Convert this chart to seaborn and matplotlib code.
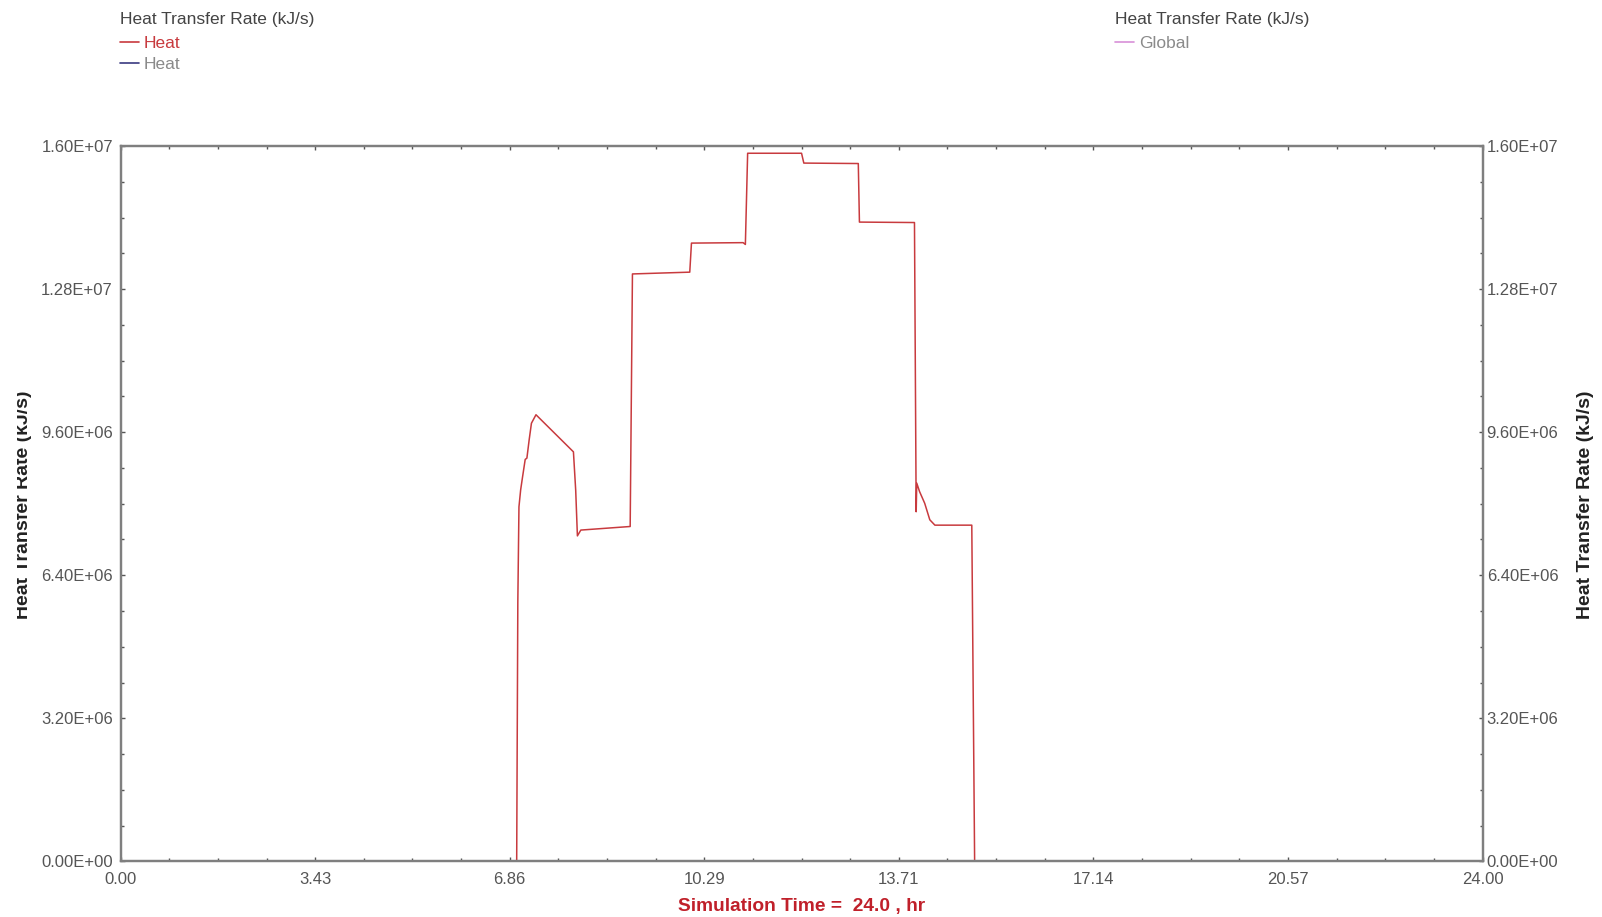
import matplotlib
matplotlib.use("Agg")
import matplotlib.pyplot as plt
from matplotlib.ticker import FixedLocator, FuncFormatter, AutoMinorLocator
from matplotlib.lines import Line2D
from matplotlib.transforms import Bbox
import seaborn as sns
import pandas as pd

# ---- data ----
time_hr = [0.00, 6.98, 7.00, 7.02, 7.05, 7.08, 7.13, 7.16, 7.20, 7.24, 7.32,
           7.98, 8.02, 8.05, 8.11, 8.98, 9.02, 10.03, 10.06, 10.97, 11.01,
           11.05, 12.00, 12.04, 13.00, 13.02, 13.99, 14.02, 14.03, 14.08,
           14.17, 14.26, 14.35, 15.00, 15.05, 24.00]
heat_rate = [0.0, 0.0, 5.80e6, 7.93e6, 8.31e6, 8.57e6, 8.99e6, 9.02e6, 9.43e6, 9.80e6, 9.99e6,
             9.16e6, 8.30e6, 7.28e6, 7.41e6, 7.49e6, 13.14e6, 13.18e6, 13.83e6, 13.84e6, 13.80e6,
             15.84e6, 15.84e6, 15.62e6, 15.61e6, 14.30e6, 14.29e6, 7.82e6, 8.46e6, 8.27e6,
             8.01e6, 7.64e6, 7.52e6, 7.52e6, 0.0, 0.0]

x_ticks = [0.00, 24 / 7, 48 / 7, 72 / 7, 96 / 7, 120 / 7, 144 / 7, 24.00]
y_ticks = [0.0, 3.2e6, 6.4e6, 9.6e6, 1.28e7, 1.6e7]

left_legend_title = "Heat Transfer Rate (kJ/s)"
left_legend_labels = ["Heat", "Heat"]
right_legend_title = "Heat Transfer Rate (kJ/s)"
right_legend_labels = ["Global"]
y_label = "Heat Transfer Rate (kJ/s)"
x_label = "Simulation Time =  24.0 , hr"

# ---- style ----
sns.set_style("white")
plt.rcParams["font.family"] = ["Liberation Sans", "DejaVu Sans"]

W, H = 1602, 917
fig = plt.figure(figsize=(W / 100, H / 100), dpi=100)
ax_l, ax_r, ax_t, ax_b = 120.6, 1482.5, 146.1, 861.3
ax = fig.add_axes([ax_l / W, 1 - ax_b / H, (ax_r - ax_l) / W, (ax_b - ax_t) / H])

line_red = "#c83a3e"
spine_col = "#7f7f7f"
txt_col = "#555555"

df = pd.DataFrame({"time": time_hr, "rate": heat_rate})
sns.lineplot(data=df, x="time", y="rate", ax=ax, color=line_red, linewidth=1.1,
             estimator=None, sort=False, zorder=1)

ax.set_xlim(0, 24)
ax.set_ylim(0, 1.6e7)
ax.xaxis.set_major_locator(FixedLocator(x_ticks))
ax.yaxis.set_major_locator(FixedLocator(y_ticks))
ax.xaxis.set_minor_locator(AutoMinorLocator(4))
ax.yaxis.set_minor_locator(AutoMinorLocator(4))
ax.xaxis.set_major_formatter(FuncFormatter(lambda v, p: f"{v:.2f}"))
ax.yaxis.set_major_formatter(FuncFormatter(lambda v, p: f"{v:.2E}"))
ax.set_xlabel("")
ax.set_ylabel("")

# right-hand axis (same scale) for the right tick labels
ax2 = ax.twinx()
ax2.set_ylim(ax.get_ylim())
ax2.yaxis.set_major_locator(FixedLocator(y_ticks))
ax2.yaxis.set_minor_locator(AutoMinorLocator(4))
ax2.yaxis.set_major_formatter(FuncFormatter(lambda v, p: f"{v:.2E}"))

for a in (ax, ax2):
    for s in a.spines.values():
        s.set_visible(True)
        s.set_color(spine_col)
        s.set_linewidth(1.6)
        s.set_zorder(3)

ax.tick_params(axis="both", which="both", direction="in", color="#555555",
               width=1.0, top=True, right=False, bottom=True, left=True)
ax.tick_params(axis="both", which="major", length=3, labelsize=12, labelcolor=txt_col)
ax.tick_params(axis="both", which="minor", length=2)
ax.tick_params(axis="x", which="major", pad=8)
ax.tick_params(axis="y", which="major", pad=5.5)
ax2.tick_params(axis="y", which="both", direction="in", color="#555555", width=1.0)
ax2.tick_params(axis="y", which="major", length=3, labelsize=12, labelcolor=txt_col, pad=3)
ax2.tick_params(axis="y", which="minor", length=2)

# axis titles (the left one is cut at the image edge in the reference)
tl = fig.text(28 / W, 1 - 505 / H, y_label, rotation=90, rotation_mode="anchor",
              ha="center", va="baseline", fontsize=14, fontweight="bold", color="#222222")
tl.set_clip_on(True)
tl.set_clip_box(Bbox([[17, 0], [W, H]]))
fig.text(1590 / W, 1 - 505 / H, y_label, rotation=90, rotation_mode="anchor",
         ha="center", va="baseline", fontsize=14, fontweight="bold", color="#222222")
fig.text(801.5 / W, 1 - 906 / H, x_label, ha="center", va="center",
         fontsize=13.8, fontweight="bold", color="#c0202a")

# legends
fig.text(119.5 / W, 1 - 19.5 / H, left_legend_title, ha="left", va="center",
         fontsize=12.5, color="#444444")
fig.text(1114.7 / W, 1 - 19.5 / H, right_legend_title, ha="left", va="center",
         fontsize=12.5, color="#444444")
h_left = [Line2D([], [], color=line_red, lw=1.2), Line2D([], [], color="#3a3a80", lw=1.2)]
fig.legend(h_left, left_legend_labels,
           loc="upper left", bbox_to_anchor=(119.5 / W, 1 - 36 / H),
           frameon=False, fontsize=12.5,
           handlelength=1.1, handletextpad=0.3, labelspacing=0.34,
           borderpad=0, borderaxespad=0, labelcolor=[line_red, "#8a8a8a"])
h_right = [Line2D([], [], color="#d890d8", lw=1.2)]
fig.legend(h_right, right_legend_labels,
           loc="upper left", bbox_to_anchor=(1114.7 / W, 1 - 36 / H),
           frameon=False, fontsize=12.5,
           handlelength=1.1, handletextpad=0.3, labelspacing=0.34,
           borderpad=0, borderaxespad=0, labelcolor=["#8a8a8a"])

fig.savefig("out.png", dpi=100, facecolor="white")
